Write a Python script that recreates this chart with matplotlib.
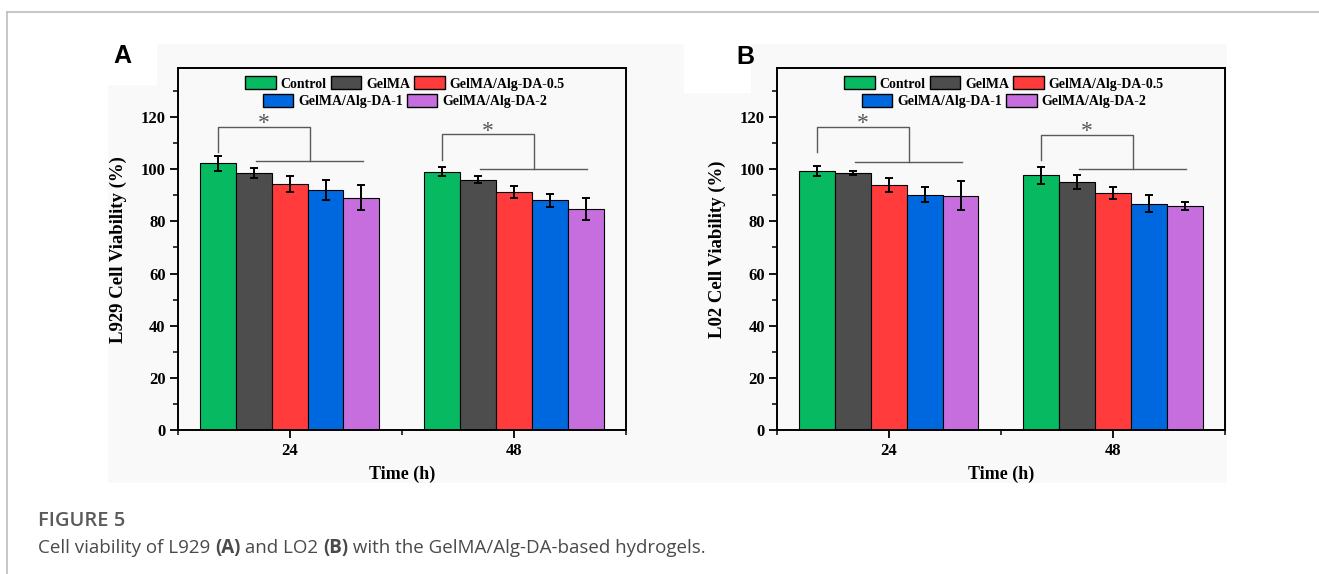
import matplotlib
matplotlib.use("Agg")
import matplotlib.pyplot as plt
from matplotlib.patches import Rectangle, Patch
from matplotlib.lines import Line2D
import numpy as np

# ---------------- data ----------------
time_labels = ["24", "48"]
series_names = ["Control", "GelMA", "GelMA/Alg-DA-0.5", "GelMA/Alg-DA-1", "GelMA/Alg-DA-2"]
colors = ["#07BA62", "#4D4D4D", "#FF3B3B", "#0068DE", "#C66EDD"]

l929_mean = [[102.2, 98.5, 94.3, 92.1, 89.1],
             [99.1, 96.0, 91.2, 88.1, 84.9]]
l929_err = [[2.9, 1.9, 3.2, 3.8, 4.7],
            [1.8, 1.4, 2.2, 2.4, 4.2]]
lo2_mean = [[99.4, 98.6, 94.0, 90.3, 89.9],
            [97.7, 95.1, 90.9, 86.8, 85.8]]
lo2_err = [[2.0, 0.8, 2.6, 2.9, 5.7],
           [3.3, 2.5, 2.4, 3.3, 1.6]]

# significance brackets per group: (top, left bottom, lower line level, star y)
l929_brackets = [(116.2, 106.6, 103.0, 119.8), (113.4, 103.4, 100.1, 116.6)]
lo2_brackets = [(116.2, 106.6, 102.8, 119.8), (113.3, 103.6, 100.0, 116.6)]

ylabels = ["L929 Cell Viability (%)", "L02 Cell Viability (%)"]
panel_letters = ["A", "B"]
caption_title = "FIGURE 5"
caption_parts = [("Cell viability of L929 ", "normal"), ("(A)", "bold"), (" and LO2 ", "normal"),
                 ("(B)", "bold"), (" with the GelMA/Alg-DA-based hydrogels.", "normal")]

# ---------------- layout ----------------
W, H = 1319, 574
plt.rcParams["font.family"] = ["Liberation Serif", "DejaVu Serif"]
plt.rcParams["font.weight"] = "bold"
fig = plt.figure(figsize=(W / 100, H / 100), dpi=100)
fig.patch.set_facecolor("white")

def fr(x0, y0, x1, y1):
    return [x0 / W, 1 - y1 / H, (x1 - x0) / W, (y1 - y0) / H]

bg = "#F9F9F9"
for (x0, y0, x1, y1) in [(157, 44, 684, 483), (108, 85, 157, 483),
                         (684, 93, 751, 483), (751, 44, 1227, 483)]:
    r = fr(x0, y0, x1, y1)
    fig.patches.append(Rectangle((r[0], r[1]), r[2], r[3], transform=fig.transFigure,
                                 facecolor=bg, edgecolor="none", zorder=-5))

fig.add_artist(Line2D([6.5 / W, 1.0], [1 - 11.5 / H, 1 - 11.5 / H], transform=fig.transFigure,
                      color="#BDBDBD", lw=1.2, zorder=-4))
fig.add_artist(Line2D([6.5 / W, 6.5 / W], [0, 1 - 11.5 / H], transform=fig.transFigure,
                      color="#BDBDBD", lw=1.2, zorder=-4))

axes_boxes = [(177.5, 68.3, 626, 430), (776.7, 68.3, 1225, 430)]
label_pos = [(122, 56), (745.5, 56.5)]
means = [l929_mean, lo2_mean]
errs = [l929_err, lo2_err]
brackets = [l929_brackets, lo2_brackets]

n = len(series_names)
bw = 0.16
xg = np.arange(1, len(time_labels) + 1)

for p in range(2):
    ax = fig.add_axes(fr(*axes_boxes[p]))
    ax.set_facecolor("none")
    m = np.array(means[p])
    e = np.array(errs[p])
    for i in range(n):
        xs = xg + (i - (n - 1) / 2) * bw
        ax.bar(xs, m[:, i], width=bw, color=colors[i], edgecolor="black", linewidth=0.8,
               label=series_names[i], zorder=2)
        ax.errorbar(xs, m[:, i], yerr=e[:, i], fmt="none", ecolor="black", elinewidth=1.4,
                    capsize=3.2, capthick=1.4, zorder=3)
    for g in range(len(time_labels)):
        top, lb, low, sy = brackets[p][g]
        xc = xg[g]
        xl = xc - 2 * bw
        xr = xc + 0.09
        ax.plot([xl, xl, xr, xr], [lb, top, top, low], color="#5A5A5A", lw=1.0, zorder=2)
        ax.plot([xc - 0.15, xc + 0.325], [low, low], color="#5A5A5A", lw=1.0, zorder=2)
        ax.annotate("*", xy=((xl + xr) / 2, sy), xytext=(0, -4), textcoords="offset points",
                    ha="center", va="center", fontsize=17, color="#555555", fontweight="normal")
    ax.set_xlim(0.5, 2.5)
    ax.set_ylim(0, 138.7)
    ax.set_xticks(xg)
    ax.set_xticklabels(time_labels)
    ax.set_xticks([0.5, 1.5, 2.5], minor=True)
    ax.set_yticks(np.arange(0, 121, 20))
    ax.set_yticks(np.arange(10, 131, 20), minor=True)
    ax.tick_params(axis="both", which="major", direction="out", length=5.5, width=1.3,
                   labelsize=12, top=False, right=False)
    ax.tick_params(axis="x", which="major", pad=4)
    ax.tick_params(axis="y", which="major", pad=3)
    ax.tick_params(axis="both", which="minor", direction="out", length=3.5, width=1.1,
                   top=False, right=False)
    for lab in ax.get_xticklabels() + ax.get_yticklabels():
        lab.set_fontweight("bold")
    for s in ax.spines.values():
        s.set_linewidth(1.4)
        s.set_color("black")
    ax.set_ylabel(ylabels[p], fontsize=13.5, fontweight="bold")
    ax.yaxis.set_label_coords(-0.112, 0.5)
    ax.set_xlabel("Time (h)", fontsize=13, fontweight="bold")
    ax.xaxis.set_label_coords(0.5, -0.098)

    handles = [Patch(facecolor=colors[i], edgecolor="black", linewidth=1.0) for i in range(n)]
    leg1 = ax.legend(handles[:3], series_names[:3], loc="center", bbox_to_anchor=(0.507, 0.9585),
                     ncol=3, frameon=False, handlelength=2.2, handleheight=1.1,
                     handletextpad=0.35, columnspacing=0.3, borderpad=0, borderaxespad=0,
                     prop={"weight": "bold", "size": 10})
    ax.add_artist(leg1)
    ax.legend(handles[3:], series_names[3:], loc="center", bbox_to_anchor=(0.507, 0.909),
              ncol=2, frameon=False, handlelength=2.2, handleheight=1.1,
              handletextpad=0.35, columnspacing=0.3, borderpad=0, borderaxespad=0,
              prop={"weight": "bold", "size": 10})

    lx, ly = label_pos[p]
    fig.text(lx / W, 1 - ly / H, panel_letters[p], ha="center", va="center",
             fontsize=18, fontweight="bold", family=["Liberation Sans", "DejaVu Sans"])

# caption
cap_family = ["Open Sans", "DejaVu Sans"]
fig.text(38 / W, 1 - 521 / H, caption_title, ha="left", va="center", fontsize=14.5,
         color="#5A5A5A", fontweight="semibold", family=cap_family)
renderer = fig.canvas.get_renderer()
x = 38 / W
for txt, wt in caption_parts:
    t = fig.text(x, 1 - 548 / H, txt, ha="left", va="center", fontsize=13.5,
                 color="#4A4A4A", fontweight=wt, family=cap_family)
    bb = t.get_window_extent(renderer=renderer)
    x = bb.x1 / W

fig.savefig("out.png", dpi=100, facecolor="white")
